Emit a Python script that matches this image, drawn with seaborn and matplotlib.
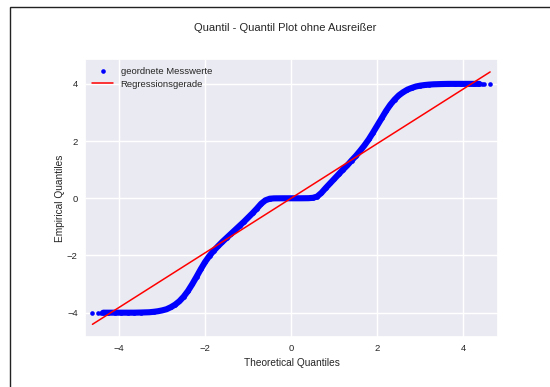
import matplotlib
matplotlib.use("Agg")
import matplotlib.pyplot as plt
from matplotlib.patches import Rectangle
import seaborn as sns

# Theoretical normal quantiles and the sorted measurements (outliers removed)
theo_q = [-4.62, -4.48, -4.43,
          -4.37, -4.25, -4.10, -3.95, -3.80, -3.65, -3.50, -3.40, -3.30, -3.20,
          -3.10, -3.00, -2.90, -2.80, -2.70, -2.60, -2.50, -2.40, -2.30, -2.20,
          -2.10, -2.00, -1.90, -1.80, -1.70, -1.60, -1.50, -1.40, -1.30, -1.20,
          -1.10, -1.00, -0.90, -0.80, -0.70, -0.60, -0.50, -0.40, -0.20, 0.00,
          0.20, 0.40, 0.50, 0.60, 0.70, 0.80, 0.90, 1.00, 1.10, 1.20, 1.30,
          1.40, 1.50, 1.60, 1.70, 1.80, 1.90, 2.00, 2.10, 2.20, 2.30, 2.40,
          2.50, 2.60, 2.70, 2.80, 2.90, 3.00, 3.10, 3.20, 3.30, 3.40, 3.50,
          3.65, 3.80, 3.95, 4.10, 4.25, 4.37,
          4.43, 4.48, 4.62]
messwerte = [-4.00, -4.00, -4.00,
             -4.00, -4.00, -4.00, -4.00, -4.00, -4.00, -3.995, -3.99, -3.985, -3.97,
             -3.95, -3.92, -3.88, -3.81, -3.72, -3.60, -3.44, -3.24, -3.00, -2.74,
             -2.47, -2.22, -2.01, -1.83, -1.67, -1.52, -1.38, -1.24, -1.10, -0.96,
             -0.82, -0.67, -0.52, -0.36, -0.19, -0.07, -0.015, -0.003, 0.00, 0.00,
             0.00, 0.003, 0.015, 0.06, 0.19, 0.36, 0.52, 0.68, 0.84, 1.00, 1.15,
             1.32, 1.48, 1.66, 1.85, 2.06, 2.30, 2.55, 2.80, 3.05, 3.27, 3.45,
             3.60, 3.71, 3.80, 3.86, 3.91, 3.94, 3.96, 3.975, 3.985, 3.99, 3.995,
             4.00, 4.00, 4.00, 4.00, 4.00, 4.00,
             4.00, 4.00, 4.00]
n_tail = 3  # isolated extreme points at each end

# Fitted regression line
reg_slope = 0.955
reg_intercept = 0.005
reg_x = [theo_q[0], theo_q[-1]]
reg_y = [reg_slope * x + reg_intercept for x in reg_x]

x_ticks = [-4, -2, 0, 2, 4]
y_ticks = [-4, -2, 0, 2, 4]

sns.set_theme(style="darkgrid")
plt.rcParams["font.family"] = ["Liberation Sans", "DejaVu Sans"]
plt.rcParams["axes.unicode_minus"] = True

W, H = 550, 387
fig = plt.figure(figsize=(W / 100, H / 100), dpi=100)

# frame drawn around the figure
fig.patches.append(Rectangle((9.7 / W, -0.1), 1.2, 1.1 - 6.9 / H,
                             transform=fig.transFigure, fill=False,
                             edgecolor="#222222", linewidth=1.0, zorder=10))

ax = fig.add_axes([84.7 / W, 1 - 336.7 / H, (498.3 - 84.7) / W, (336.7 - 59.0) / H])

# dense central body of the sorted values
sns.lineplot(x=theo_q[n_tail:-n_tail], y=messwerte[n_tail:-n_tail], sort=False,
             estimator=None, color="blue", linewidth=4.4,
             solid_capstyle="round", ax=ax, legend=False)
sns.scatterplot(x=theo_q, y=messwerte, color="blue", s=11, linewidth=0,
                label="geordnete Messwerte", ax=ax, zorder=3)
sns.lineplot(x=reg_x, y=reg_y, estimator=None, color="red", linewidth=1.1,
             label="Regressionsgerade", ax=ax, zorder=4)

ax.set_xlim(-4.80, 4.81)
ax.set_ylim(-4.84, 4.87)
ax.set_xticks(x_ticks)
ax.set_yticks(y_ticks)
ax.tick_params(axis="both", labelsize=6.8, pad=5, length=0)
ax.set_xlabel("Theoretical Quantiles", fontsize=7.3, labelpad=3.5)
ax.set_ylabel("Empirical Quantiles", fontsize=7.3, labelpad=1.5)
for gl in ax.get_xgridlines() + ax.get_ygridlines():
    gl.set_linewidth(1.0)

ax.legend(loc="upper left", frameon=False, fontsize=6.8,
          handlelength=2.2, borderaxespad=0.4, labelspacing=0.45)

fig.text(285 / W, 1 - 28 / H, "Quantil - Quantil Plot ohne Ausreißer",
         ha="center", va="center", fontsize=8, color="0.15")

fig.savefig("out.png", dpi=100)
